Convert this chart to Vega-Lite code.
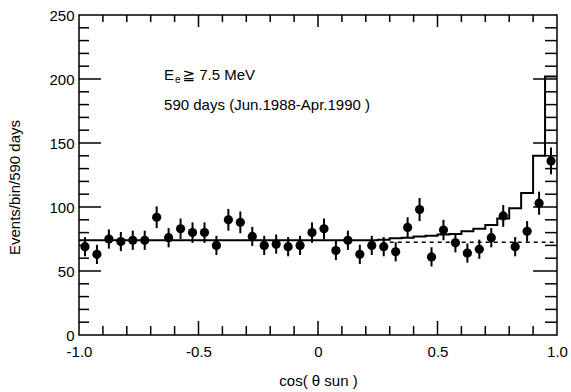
{
  "$schema": "https://vega.github.io/schema/vega-lite/v6.json",
  "width": 478,
  "height": 320,
  "autosize": "none",
  "padding": {"left": 79, "top": 15, "right": 14, "bottom": 57},
  "background": "white",
  "config": {
    "view": {"stroke": "black", "strokeWidth": 1.5},
    "font": "Liberation Sans",
    "axis": {"grid": false, "domain": false, "ticks": false, "tickSize": 0, "labelColor": "black", "titleColor": "black", "labelFont": "Liberation Sans", "titleFont": "Liberation Sans", "labelFontSize": 15, "titleFontSize": 15, "titleFontWeight": "normal", "labelFlush": false, "labelOverlap": false}
  },
  "datasets": {
    "points": [
      {"x": -0.975, "y": 69, "lo": 61.5, "hi": 76.5},
      {"x": -0.925, "y": 63, "lo": 55.5, "hi": 70.5},
      {"x": -0.875, "y": 75, "lo": 67.5, "hi": 82.5},
      {"x": -0.825, "y": 73, "lo": 65.5, "hi": 80.5},
      {"x": -0.775, "y": 74, "lo": 66.5, "hi": 81.5},
      {"x": -0.725, "y": 74, "lo": 66.5, "hi": 81.5},
      {"x": -0.675, "y": 92, "lo": 83.5, "hi": 100.5},
      {"x": -0.625, "y": 76, "lo": 68.5, "hi": 83.5},
      {"x": -0.575, "y": 83, "lo": 75, "hi": 91},
      {"x": -0.525, "y": 80, "lo": 72, "hi": 88},
      {"x": -0.475, "y": 80, "lo": 72, "hi": 88},
      {"x": -0.425, "y": 70, "lo": 62.5, "hi": 77.5},
      {"x": -0.375, "y": 90, "lo": 81.5, "hi": 98.5},
      {"x": -0.325, "y": 88, "lo": 79.5, "hi": 96.5},
      {"x": -0.275, "y": 77, "lo": 69.5, "hi": 84.5},
      {"x": -0.225, "y": 70, "lo": 62.5, "hi": 77.5},
      {"x": -0.175, "y": 71, "lo": 63.5, "hi": 78.5},
      {"x": -0.125, "y": 69, "lo": 61.5, "hi": 76.5},
      {"x": -0.075, "y": 70, "lo": 62.5, "hi": 77.5},
      {"x": -0.025, "y": 80, "lo": 72, "hi": 88},
      {"x": 0.025, "y": 83, "lo": 75, "hi": 91},
      {"x": 0.075, "y": 66, "lo": 58.5, "hi": 73.5},
      {"x": 0.125, "y": 74, "lo": 66.5, "hi": 81.5},
      {"x": 0.175, "y": 63, "lo": 55.5, "hi": 70.5},
      {"x": 0.225, "y": 70, "lo": 62.5, "hi": 77.5},
      {"x": 0.275, "y": 69, "lo": 61.5, "hi": 76.5},
      {"x": 0.325, "y": 65, "lo": 57.5, "hi": 72.5},
      {"x": 0.375, "y": 84, "lo": 76, "hi": 92},
      {"x": 0.425, "y": 98, "lo": 89, "hi": 107},
      {"x": 0.475, "y": 61, "lo": 53.5, "hi": 68.5},
      {"x": 0.525, "y": 82, "lo": 74, "hi": 90},
      {"x": 0.575, "y": 72, "lo": 64.5, "hi": 79.5},
      {"x": 0.625, "y": 64, "lo": 56.5, "hi": 71.5},
      {"x": 0.675, "y": 67, "lo": 59.5, "hi": 74.5},
      {"x": 0.725, "y": 76, "lo": 68.5, "hi": 83.5},
      {"x": 0.775, "y": 93, "lo": 84.5, "hi": 101.5},
      {"x": 0.825, "y": 69, "lo": 61.5, "hi": 76.5},
      {"x": 0.875, "y": 81, "lo": 73, "hi": 89},
      {"x": 0.925, "y": 103, "lo": 94, "hi": 112},
      {"x": 0.975, "y": 136, "lo": 125.5, "hi": 146.5}
    ],
    "hist": [
      {"x": -1.0, "y": 74},
      {"x": 0.25, "y": 74.5},
      {"x": 0.3, "y": 75.5},
      {"x": 0.35, "y": 76},
      {"x": 0.4, "y": 77},
      {"x": 0.45, "y": 77.5},
      {"x": 0.5, "y": 78.5},
      {"x": 0.55, "y": 79},
      {"x": 0.6, "y": 81},
      {"x": 0.65, "y": 83},
      {"x": 0.7, "y": 86},
      {"x": 0.75, "y": 91},
      {"x": 0.8, "y": 99},
      {"x": 0.85, "y": 111},
      {"x": 0.9, "y": 140},
      {"x": 0.95, "y": 202},
      {"x": 1.0, "y": 202}
    ],
    "flat": [
      {"x": 0.3, "y": 72.5},
      {"x": 1.0, "y": 72.5}
    ],
    "xmajor": [{"v": -0.5}, {"v": 0}, {"v": 0.5}],
    "xminor": [{"v": -0.9}, {"v": -0.8}, {"v": -0.7}, {"v": -0.6}, {"v": -0.4}, {"v": -0.3}, {"v": -0.2}, {"v": -0.1}, {"v": 0.1}, {"v": 0.2}, {"v": 0.3}, {"v": 0.4}, {"v": 0.6}, {"v": 0.7}, {"v": 0.8}, {"v": 0.9}],
    "ymajor": [{"v": 50}, {"v": 100}, {"v": 150}, {"v": 200}],
    "yminor": [{"v": 10}, {"v": 20}, {"v": 30}, {"v": 40}, {"v": 60}, {"v": 70}, {"v": 80}, {"v": 90}, {"v": 110}, {"v": 120}, {"v": 130}, {"v": 140}, {"v": 160}, {"v": 170}, {"v": 180}, {"v": 190}, {"v": 210}, {"v": 220}, {"v": 230}, {"v": 240}]
  },
  "layer": [
    {
      "data": {"name": "hist"},
      "mark": {"type": "line", "interpolate": "step-after", "color": "black", "strokeWidth": 2},
      "encoding": {
        "x": {"field": "x", "type": "quantitative", "scale": {"domain": [-1, 1], "nice": false, "zero": false},
          "axis": {"orient": "bottom", "values": [-1, -0.5, 0, 0.5, 1],
            "labelExpr": "abs(datum.value) < 0.001 ? '0' : (datum.value < 0 ? '-' : '') + format(abs(datum.value), '.1f')",
            "labelPadding": 9, "title": "cos( θ sun )", "titleBaseline": "middle", "titleY": 45}},
        "y": {"field": "y", "type": "quantitative", "scale": {"domain": [0, 250], "nice": false},
          "axis": {"orient": "left", "values": [0, 50, 100, 150, 200, 250],
            "labelExpr": "format(datum.value, 'd')",
            "labelPadding": 5, "title": "Events/bin/590 days", "titleX": -65, "titleY": 172, "titleAlign": "center", "titleBaseline": "middle", "titleAngle": -90}}
      }
    },
    {
      "data": {"name": "flat"},
      "mark": {"type": "line", "color": "black", "strokeWidth": 1.5, "strokeDash": [4, 4]},
      "encoding": {
        "x": {"field": "x", "type": "quantitative"},
        "y": {"field": "y", "type": "quantitative"}
      }
    },
    {
      "data": {"name": "xmajor"},
      "mark": {"type": "rule", "color": "black", "strokeWidth": 1.5},
      "encoding": {"x": {"field": "v", "type": "quantitative"}, "y": {"datum": 0, "type": "quantitative"}, "y2": {"datum": 11}}
    },
    {
      "data": {"name": "xmajor"},
      "mark": {"type": "rule", "color": "black", "strokeWidth": 1.5},
      "encoding": {"x": {"field": "v", "type": "quantitative"}, "y": {"datum": 250, "type": "quantitative"}, "y2": {"datum": 240.6}}
    },
    {
      "data": {"name": "xminor"},
      "mark": {"type": "rule", "color": "black", "strokeWidth": 1.5},
      "encoding": {"x": {"field": "v", "type": "quantitative"}, "y": {"datum": 0, "type": "quantitative"}, "y2": {"datum": 7}}
    },
    {
      "data": {"name": "xminor"},
      "mark": {"type": "rule", "color": "black", "strokeWidth": 1.5},
      "encoding": {"x": {"field": "v", "type": "quantitative"}, "y": {"datum": 250, "type": "quantitative"}, "y2": {"datum": 244.5}}
    },
    {
      "data": {"name": "ymajor"},
      "mark": {"type": "rule", "color": "black", "strokeWidth": 1.5},
      "encoding": {"y": {"field": "v", "type": "quantitative"}, "x": {"datum": -1, "type": "quantitative"}, "x2": {"datum": -0.908}}
    },
    {
      "data": {"name": "ymajor"},
      "mark": {"type": "rule", "color": "black", "strokeWidth": 1.5},
      "encoding": {"y": {"field": "v", "type": "quantitative"}, "x": {"datum": 1, "type": "quantitative"}, "x2": {"datum": 0.9}}
    },
    {
      "data": {"name": "yminor"},
      "mark": {"type": "rule", "color": "black", "strokeWidth": 1.5},
      "encoding": {"y": {"field": "v", "type": "quantitative"}, "x": {"datum": -1, "type": "quantitative"}, "x2": {"datum": -0.958}}
    },
    {
      "data": {"name": "yminor"},
      "mark": {"type": "rule", "color": "black", "strokeWidth": 1.5},
      "encoding": {"y": {"field": "v", "type": "quantitative"}, "x": {"datum": 1, "type": "quantitative"}, "x2": {"datum": 0.95}}
    },
    {
      "data": {"name": "points"},
      "mark": {"type": "rule", "color": "black", "strokeWidth": 2},
      "encoding": {
        "x": {"field": "x", "type": "quantitative"},
        "y": {"field": "lo", "type": "quantitative"},
        "y2": {"field": "hi"}
      }
    },
    {
      "data": {"name": "points"},
      "mark": {"type": "circle", "color": "black", "opacity": 1, "size": 85},
      "encoding": {
        "x": {"field": "x", "type": "quantitative"},
        "y": {"field": "y", "type": "quantitative"}
      }
    },
    {
      "data": {"values": [{"x": -0.644, "y": 203, "label": "E"}]},
      "mark": {"type": "text", "align": "left", "baseline": "middle", "fontSize": 15, "font": "Liberation Sans", "color": "black"},
      "encoding": {
        "x": {"field": "x", "type": "quantitative"},
        "y": {"field": "y", "type": "quantitative"},
        "text": {"field": "label"}
      }
    },
    {
      "data": {"values": [{"x": -0.598, "y": 199, "label": "e"}]},
      "mark": {"type": "text", "align": "left", "baseline": "middle", "fontSize": 10, "font": "Liberation Sans", "color": "black"},
      "encoding": {
        "x": {"field": "x", "type": "quantitative"},
        "y": {"field": "y", "type": "quantitative"},
        "text": {"field": "label"}
      }
    },
    {
      "data": {"values": [{"x": -0.567, "y": 203, "label": "≧ 7.5 MeV"}, {"x": -0.644, "y": 180, "label": "590 days (Jun.1988-Apr.1990 )"}]},
      "mark": {"type": "text", "align": "left", "baseline": "middle", "fontSize": 15, "font": "Liberation Sans, DejaVu Sans", "color": "black"},
      "encoding": {
        "x": {"field": "x", "type": "quantitative"},
        "y": {"field": "y", "type": "quantitative"},
        "text": {"field": "label"}
      }
    }
  ]
}
